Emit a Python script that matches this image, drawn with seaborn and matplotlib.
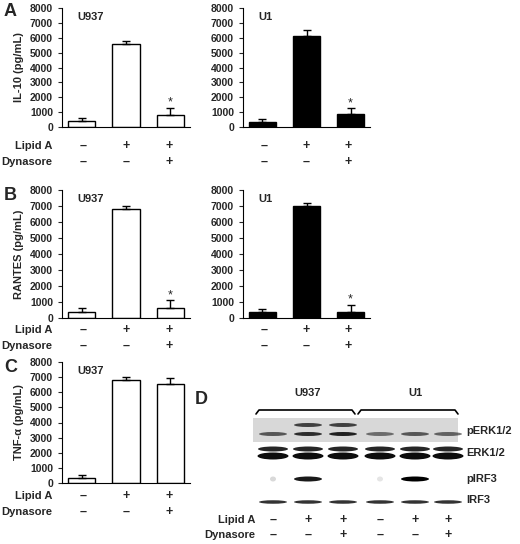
import matplotlib
matplotlib.use("Agg")
import matplotlib.pyplot as plt
import seaborn as sns
import pandas as pd
from matplotlib.patches import Ellipse, Rectangle

sns.set_style("white")
plt.rcParams['font.family'] = ['Liberation Sans', 'DejaVu Sans']

conds = ["1", "2", "3"]
il10_u937 = [400, 5600, 800]; il10_u937_err = [200, 200, 500]
il10_u1 = [350, 6100, 850]; il10_u1_err = [200, 450, 400]
rantes_u937 = [400, 6800, 650]; rantes_u937_err = [200, 200, 450]
rantes_u1 = [350, 7000, 400]; rantes_u1_err = [200, 200, 400]
tnf_u937 = [350, 6800, 6550]; tnf_u937_err = [200, 200, 400]
lipid = ["\u2013", "+", "+"]
dyna = ["\u2013", "\u2013", "+"]
yticks = [0, 1000, 2000, 3000, 4000, 5000, 6000, 7000, 8000]

W, H = 520, 544
fig = plt.figure(figsize=(5.2, 5.44), dpi=100)

def ax_at(x0, y0, x1, y1):
    return fig.add_axes([x0 / W, 1 - y1 / H, (x1 - x0) / W, (y1 - y0) / H])

def bars(ax, vals, errs, color, title, ylabel, star=True):
    df = pd.DataFrame({"c": conds, "v": vals})
    sns.barplot(data=df, x="c", y="v", color=color, edgecolor="black", linewidth=1,
                width=0.62, ax=ax, errorbar=None)
    ax.errorbar(range(3), vals, yerr=[[0]*3, errs], fmt="none", ecolor="black",
                capsize=3, elinewidth=1)
    ax.set_xticks([])
    ax.set_xlabel("")
    ax.set_ylabel(ylabel, fontsize=8, fontweight="bold")
    for s in ["top", "right"]:
        ax.spines[s].set_visible(False)
    for s in ["left", "bottom"]:
        ax.spines[s].set_color("black")
    ax.text(0.12, 0.97, title, transform=ax.transAxes, fontsize=8, fontweight="bold", va="top")
    if star:
        ax.text(2, vals[2] + errs[2] + 150, "*", ha="center", fontsize=9)
    ax.set_yticks(yticks)
    ax.set_ylim(0, 8000)
    ax.tick_params(axis="y", labelsize=7.5, length=3, direction="out", left=True)
    for t in ax.get_yticklabels():
        t.set_fontweight("bold")

a1 = ax_at(62, 8, 190, 127); bars(a1, il10_u937, il10_u937_err, "white", "U937", "IL-10 (pg/mL)")
a2 = ax_at(243, 8, 370, 127); bars(a2, il10_u1, il10_u1_err, "black", "U1", "")
b1 = ax_at(62, 190, 190, 318); bars(b1, rantes_u937, rantes_u937_err, "white", "U937", "RANTES (pg/mL)")
b2 = ax_at(243, 190, 370, 318); bars(b2, rantes_u1, rantes_u1_err, "black", "U1", "")
c1 = ax_at(62, 362, 190, 483); bars(c1, tnf_u937, tnf_u937_err, "white", "U937", "TNF-\u03b1 (pg/mL)", star=False)

ov = fig.add_axes([0, 0, 1, 1]); ov.set_xlim(0, W); ov.set_ylim(H, 0); ov.axis("off")
bold = dict(fontweight="bold")
for lab, x, y in [("A", 4, 12), ("B", 4, 195), ("C", 4, 368), ("D", 195, 400)]:
    ov.text(x, y, lab, fontsize=13, va="center", **bold)

def signs(xs, y1, y2, xl):
    ov.text(xl, y1, "Lipid A", ha="right", va="center", fontsize=8, **bold)
    ov.text(xl, y2, "Dynasore", ha="right", va="center", fontsize=8, **bold)
    for i, x in enumerate(xs):
        ov.text(x, y1, lipid[i % 3], ha="center", va="center", fontsize=9, **bold)
        ov.text(x, y2, dyna[i % 3], ha="center", va="center", fontsize=9, **bold)

xsA = [83, 126, 169]; xsB = [264, 306, 348]
signs(xsA + xsB, 146, 162, 52)
signs(xsA + xsB, 330, 346, 52)
signs(xsA, 496, 512, 52)

# Western blot (D)
lanes = [273, 308, 343, 380, 415, 448]
ov.text(308, 393, "U937", ha="center", va="center", fontsize=8, **bold)
ov.text(415, 393, "U1", ha="center", va="center", fontsize=8, **bold)
for x0, x1 in [(256, 355), (358, 458)]:
    ov.plot([x0, x0 + 3, x1 - 3, x1], [414, 410, 410, 414], color="black", lw=1.2)
ov.add_patch(Rectangle((253, 418), 205, 24, color="#d8d8d8", lw=0))
perk_up = [0.0, 0.7, 0.7, 0.0, 0.0, 0.0]; perk_lo = [0.6, 0.8, 0.85, 0.5, 0.6, 0.55]
pirf = [0.15, 0.9, 0.0, 0.1, 1.0, 0.0]
for i, x in enumerate(lanes):
    for a, yy in [(perk_up[i], 425), (perk_lo[i], 434)]:
        if a > 0:
            ov.add_patch(Ellipse((x, yy), 28, 4, color="black", alpha=a, lw=0))
    ov.add_patch(Ellipse((x, 449), 30, 5, color="black", alpha=0.85, lw=0))
    ov.add_patch(Ellipse((x, 456), 31, 7, color="black", alpha=0.95, lw=0))
    if pirf[i] > 0:
        ov.add_patch(Ellipse((x, 479), 28 if pirf[i] > 0.5 else 6, 5, color="black", alpha=pirf[i], lw=0))
    ov.add_patch(Ellipse((x, 502), 28, 3.5, color="black", alpha=0.8, lw=0))
for lab, y in [("pERK1/2", 431), ("ERK1/2", 453), ("pIRF3", 479), ("IRF3", 500)]:
    ov.text(466, y, lab, va="center", fontsize=8, **bold)
signs(lanes, 520, 535, 255)

fig.savefig("out.png", dpi=100, facecolor="white")
